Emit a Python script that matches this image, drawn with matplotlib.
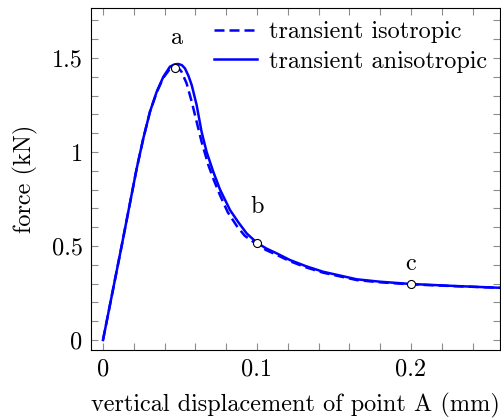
import matplotlib
matplotlib.use("Agg")
import matplotlib.pyplot as plt
from matplotlib.ticker import MultipleLocator

plt.rcParams["font.family"] = ["cmr10", "DejaVu Serif"]
plt.rcParams["mathtext.fontset"] = "cm"
plt.rcParams["axes.formatter.use_mathtext"] = True

FS = 17.5

# Force-displacement curves (mm, kN)
disp_aniso = [0, 0.0121, 0.0219, 0.0262, 0.0305, 0.0349, 0.0392, 0.0435, 0.0465,
              0.0489, 0.0512, 0.0532, 0.0555, 0.0576, 0.0608, 0.0640, 0.0673,
              0.0716, 0.0760, 0.0825, 0.0880, 0.0933, 0.1000, 0.1060, 0.1128,
              0.1214, 0.1320, 0.1430, 0.1647, 0.1800, 0.2000, 0.2297, 0.2600]
force_aniso = [0, 0.50, 0.913, 1.073, 1.214, 1.321, 1.400, 1.454, 1.466,
               1.468, 1.462, 1.445, 1.405, 1.356, 1.250, 1.108, 1.000,
               0.895, 0.800, 0.691, 0.625, 0.567, 0.517, 0.487, 0.461,
               0.4255, 0.392, 0.363, 0.323, 0.310, 0.298, 0.287, 0.277]

disp_iso = [0, 0.0121, 0.0219, 0.0262, 0.0305, 0.0349, 0.0392, 0.0430, 0.0455,
            0.0475, 0.0495, 0.0510, 0.0543, 0.0576, 0.0608, 0.0640, 0.0684,
            0.0720, 0.0760, 0.0810, 0.0870, 0.0920, 0.1000, 0.1060, 0.1128,
            0.1214, 0.1320, 0.1430, 0.1647, 0.1800, 0.2000, 0.2297, 0.2600]
force_iso = [0, 0.50, 0.913, 1.073, 1.214, 1.318, 1.395, 1.437, 1.448,
             1.449, 1.442, 1.427, 1.365, 1.268, 1.161, 1.055, 0.931,
             0.850, 0.770, 0.680, 0.605, 0.555, 0.508, 0.478, 0.453,
             0.419, 0.386, 0.358, 0.319, 0.307, 0.296, 0.286, 0.277]

# Marked states and where their letters sit (baseline)
state_names = ["a", "b", "c"]
state_disp = [0.0468, 0.1000, 0.2000]
state_force = [1.445, 0.517, 0.298]
label_disp = [0.0480, 0.1003, 0.2000]
label_force = [1.573, 0.674, 0.372]

fig = plt.figure(figsize=(5.01, 4.19), dpi=100)
ax = fig.add_axes([0.1816, 0.1647, 0.8164, 0.8163])

blue = "#0000ff"
ax.plot(disp_iso, force_iso, color=blue, lw=1.8, ls=(0, (4.0, 2.0)),
        label="transient isotropic")
ax.plot(disp_aniso, force_aniso, color=blue, lw=1.8, ls="-",
        label="transient anisotropic")

ax.plot(state_disp, state_force, ls="none", marker="o", ms=5.8,
        mfc="white", mec="black", mew=0.8, zorder=5)
for name, x, y in zip(state_names, label_disp, label_force):
    ax.text(x, y, name, ha="center", va="baseline", fontsize=FS)

ax.set_xlim(-0.0078, 0.2578)
ax.set_ylim(-0.053, 1.766)
ax.xaxis.set_minor_locator(MultipleLocator(0.02))
ax.yaxis.set_minor_locator(MultipleLocator(0.1))
ax.set_xticks([0, 0.1, 0.2])
ax.set_xticklabels(["0", "0.1", "0.2"])
ax.set_yticks([0, 0.5, 1, 1.5])
ax.set_yticklabels(["0", "0.5", "1", "1.5"])

ax.tick_params(which="both", direction="in", top=True, right=True,
               color="#8c8c8c", width=0.8, length=5, labelsize=FS)
ax.tick_params(axis="x", pad=6)
ax.tick_params(axis="y", pad=6)
for sp in ax.spines.values():
    sp.set_linewidth(0.8)

ax.set_xlabel("vertical displacement of point A (mm)", fontsize=FS, labelpad=9)
ax.set_ylabel("force (kN)", fontsize=FS, labelpad=10)

ax.legend(loc="upper right", frameon=False, fontsize=FS, handlelength=1.75,
          handletextpad=0.5, borderaxespad=0.24, labelspacing=0.3,
          borderpad=0.3)

fig.savefig("out.png", dpi=100)
